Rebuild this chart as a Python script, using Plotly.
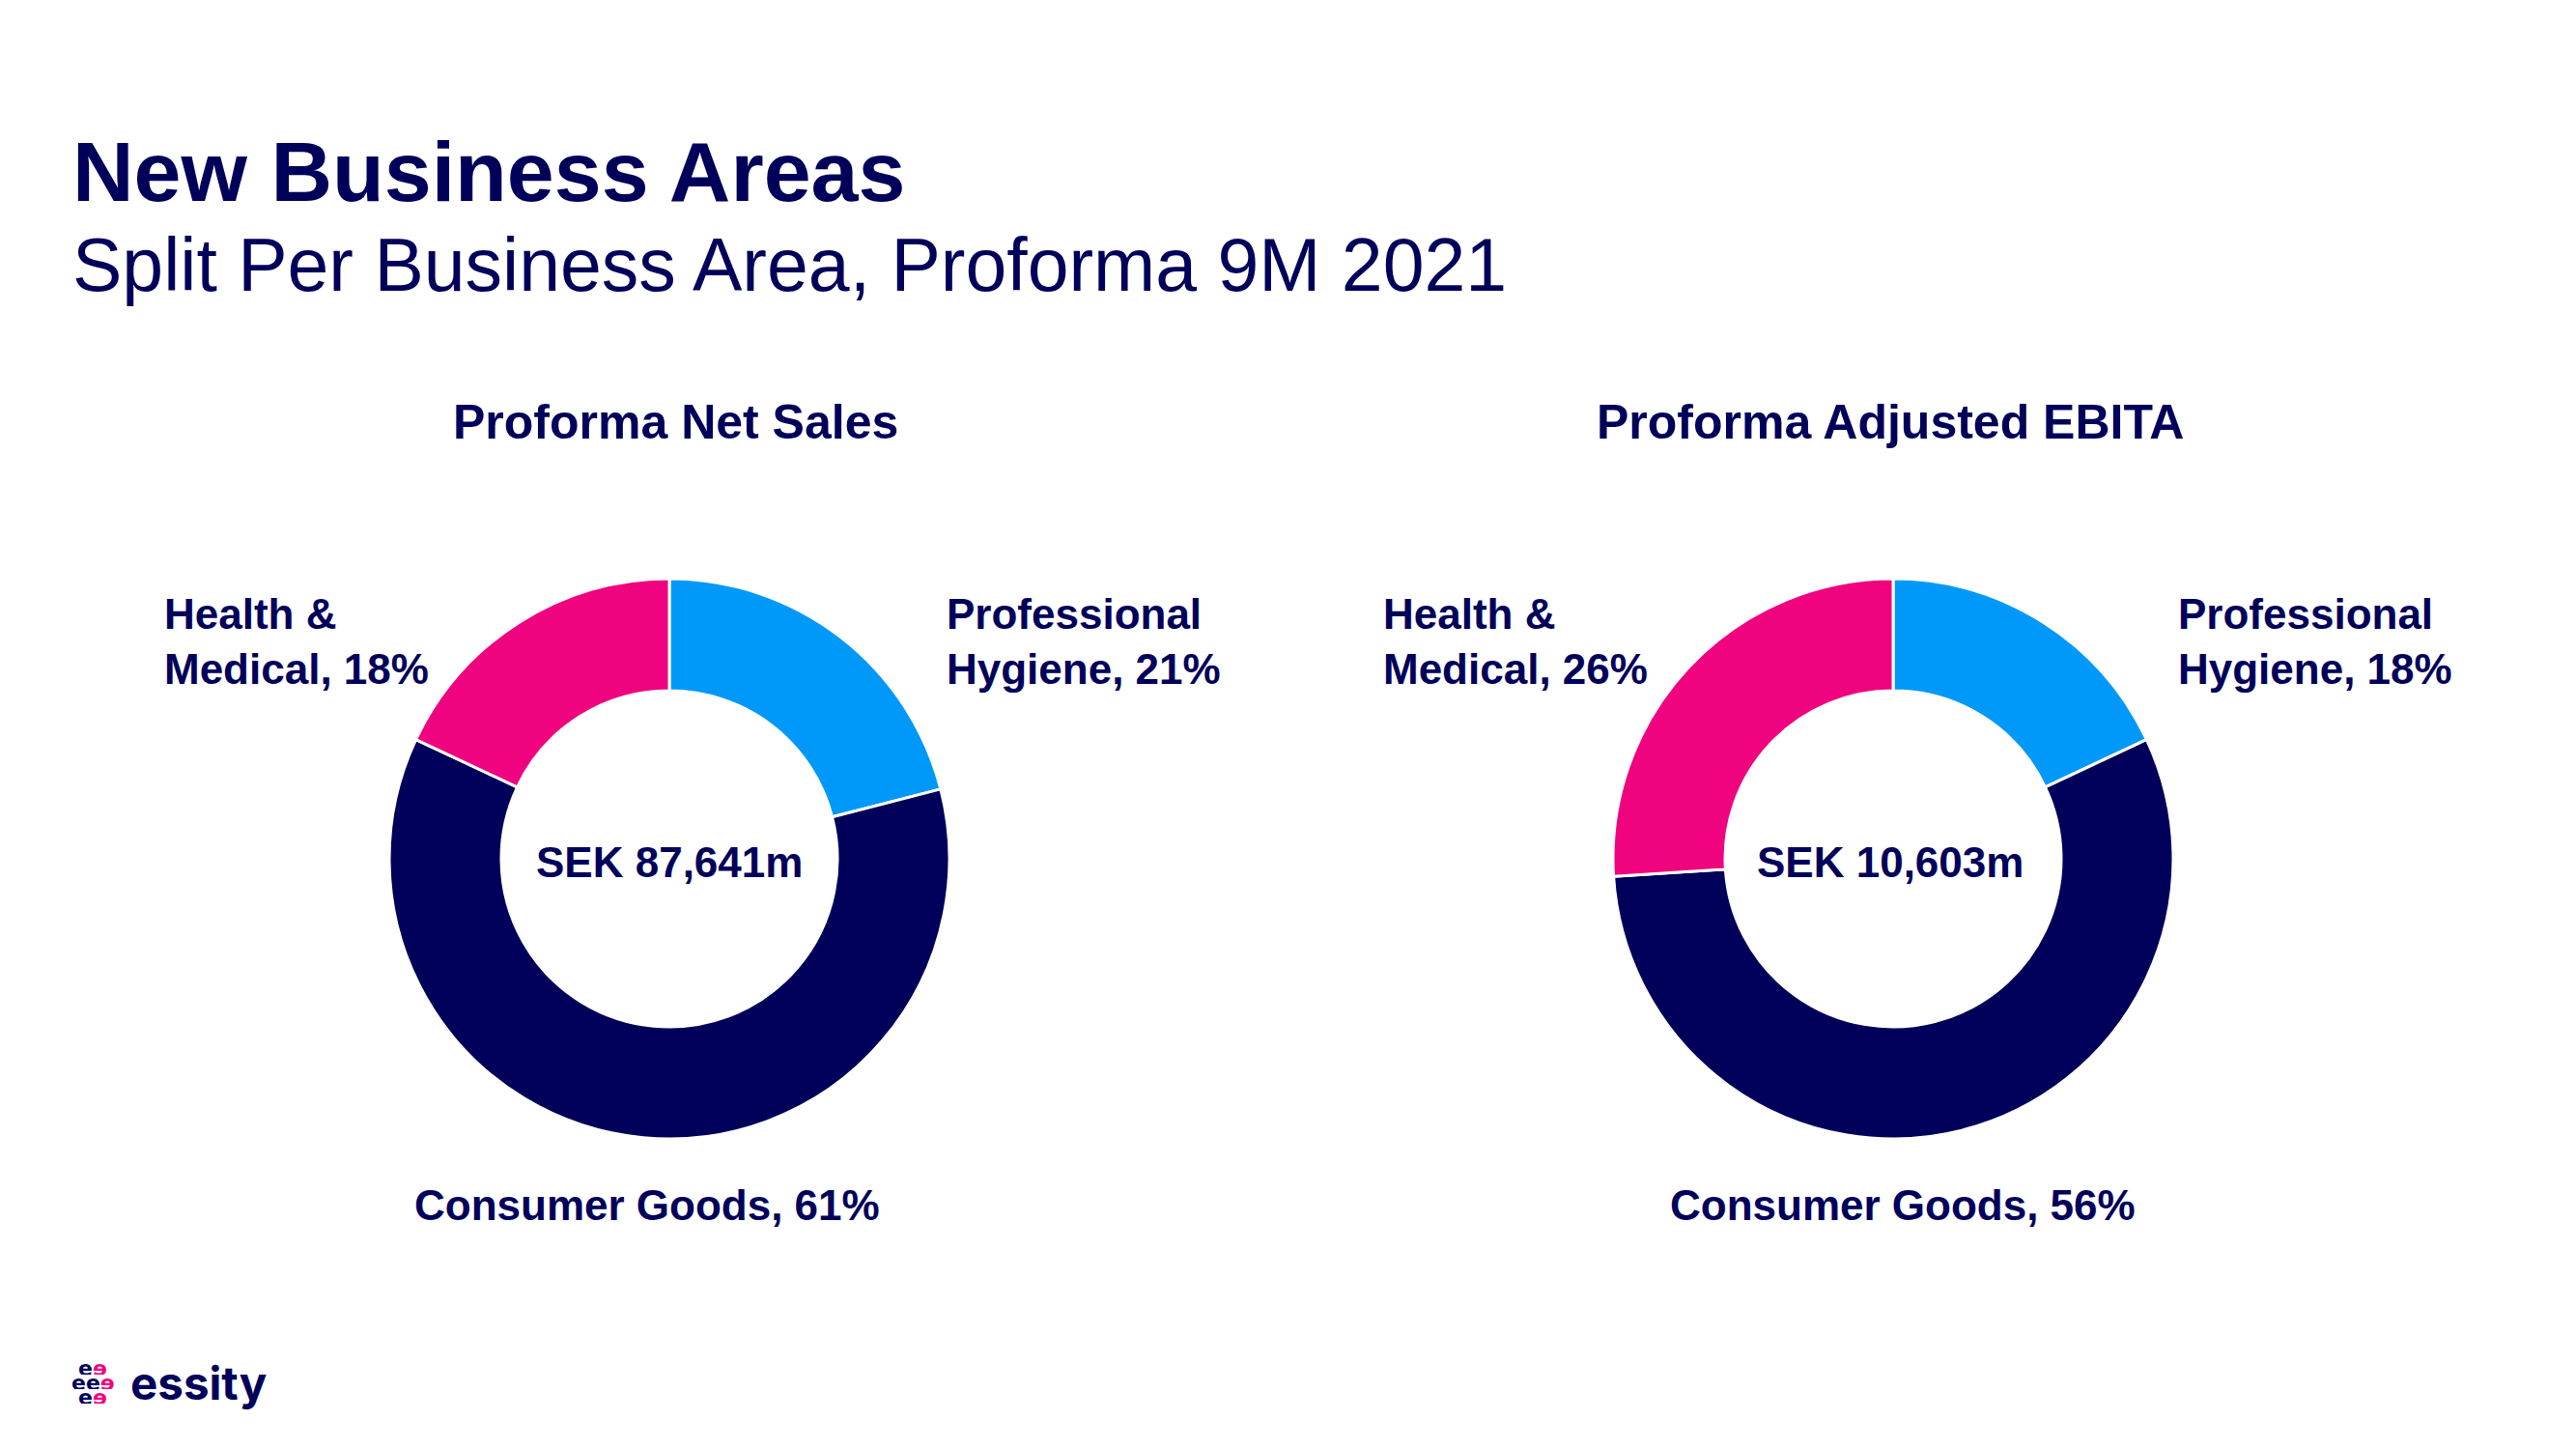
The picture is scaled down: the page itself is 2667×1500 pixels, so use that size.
import plotly.graph_objects as go

# ---- data ----
segments = ["Professional Hygiene", "Consumer Goods", "Health & Medical"]
net_sales_share = [21, 61, 18]
ebita_share = [18, 56, 26]
net_sales_total = "SEK 87,641m"
ebita_total = "SEK 10,603m"
chart_titles = ["Proforma Net Sales", "Proforma Adjusted EBITA"]
title_text = "New Business Areas"
subtitle_text = "Split Per Business Area, Proforma 9M 2021"

# ---- style ----
W, H = 2667, 1500
NAVY = "#00005A"
BLUE = "#0099FA"
PINK = "#F0037F"
seg_colors = [BLUE, NAVY, PINK]
FONT = "Liberation Sans, Arial, Helvetica, sans-serif"


def px(x):
    return x / W


def py(y):
    return 1 - y / H


fig = go.Figure()

R = 290
centers = [(685, 881), (1952, 881)]
for vals, (cx, cy) in zip([net_sales_share, ebita_share], centers):
    dom = dict(x=[px(cx - R), px(cx + R)], y=[py(cy + R), py(cy - R)])
    fig.add_trace(go.Pie(
        labels=segments, values=vals, domain=dom, hole=0.6,
        sort=False, direction="clockwise", rotation=0,
        marker=dict(colors=seg_colors, line=dict(color="white", width=3)),
        textinfo="none", hoverinfo="label+percent", showlegend=False,
    ))

ann = []


def add_text(text, x, y, size, bold=True, xanchor="left", yanchor="middle",
             color=NAVY, family=FONT, align="left", height=None):
    t = f"<b>{text}</b>" if bold else text
    a = dict(text=t, x=px(x), y=py(y), xref="paper", yref="paper",
             xanchor=xanchor, yanchor=yanchor, showarrow=False,
             align=align, font=dict(family=family, size=size, color=color))
    if height is not None:
        a["height"] = height
        a["borderpad"] = 0
    ann.append(a)


# titles
add_text(title_text, 65, 170, 88)
add_text(subtitle_text, 65, 266, 77, bold=False)

# chart titles
add_text(chart_titles[0], 691, 429, 50, xanchor="center")
add_text(chart_titles[1], 1949, 429, 50, xanchor="center")

# center totals
add_text(net_sales_total, 685, 884, 44, xanchor="center")
add_text(ebita_total, 1949, 884, 44, xanchor="center")

# segment labels
ns_labels = [f"Professional<br>Hygiene, {net_sales_share[0]}%",
             f"Consumer Goods, {net_sales_share[1]}%",
             f"Health &<br>Medical, {net_sales_share[2]}%"]
eb_labels = [f"Professional<br>Hygiene, {ebita_share[0]}%",
             f"Consumer Goods, {ebita_share[1]}%",
             f"Health &<br>Medical, {ebita_share[2]}%"]

add_text(ns_labels[0], 970, 656, 44)
add_text(ns_labels[2], 160, 656, 44)
add_text(ns_labels[1], 662, 1239, 44, xanchor="center")

add_text(eb_labels[0], 2245, 656, 44)
add_text(eb_labels[2], 1422, 656, 44)
add_text(eb_labels[1], 1962, 1239, 44, xanchor="center")

# logo
pe = f"<span style='color:{PINK}'>ɘ</span>"
logo_font = "DejaVu Sans, sans-serif"
add_text("e" + pe, 88, 1408, 22, xanchor="center", family=logo_font, height=13)
add_text("ee" + pe, 88, 1423, 22, xanchor="center", family=logo_font, height=13)
add_text("e" + pe, 88, 1438, 22, xanchor="center", family=logo_font, height=13)
add_text("essity", 125, 1423, 47.5, family="Inter, sans-serif")

fig.update_layout(
    width=W, height=H,
    margin=dict(l=0, r=0, t=0, b=0),
    paper_bgcolor="white", plot_bgcolor="white",
    annotations=ann,
)

fig.write_html("out.html")
